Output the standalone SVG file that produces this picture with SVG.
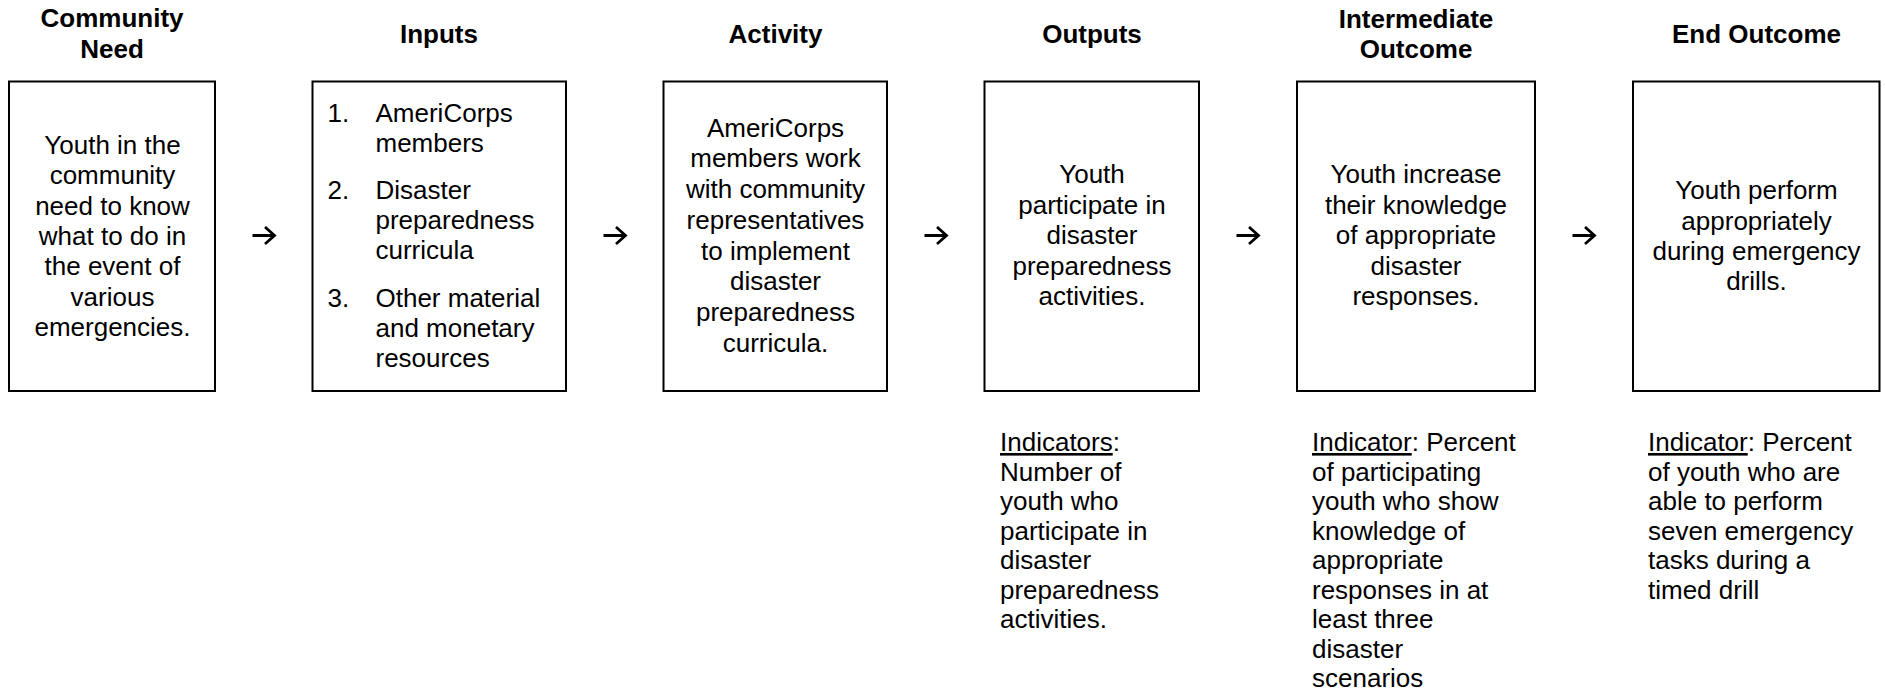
<svg xmlns="http://www.w3.org/2000/svg" width="1885" height="697" viewBox="0 0 1885 697">
<style>
text{font-family:"Liberation Sans",Arial,sans-serif;font-size:26px;fill:#000}
.h{font-weight:bold;text-anchor:middle}
.c{text-anchor:middle}
.box{fill:#fff;stroke:#000;stroke-width:2}
.arr{fill:none;stroke:#000;stroke-width:2.8;stroke-linecap:butt;stroke-linejoin:miter}
.u{text-decoration:underline}
</style>
<rect width="1885" height="697" fill="#fff"/>
<g id="node-need">
<text class="h" x="112" y="27">Community</text>
<text class="h" x="112" y="57.5">Need</text>
<rect class="box" x="9" y="81.5" width="206" height="309.5"/>
<text class="c" x="112.5" y="154">Youth in the</text>
<text class="c" x="112.5" y="184.3">community</text>
<text class="c" x="112.5" y="214.6">need to know</text>
<text class="c" x="112.5" y="245">what to do in</text>
<text class="c" x="112.5" y="275.3">the event of</text>
<text class="c" x="112.5" y="305.6">various</text>
<text class="c" x="112.5" y="336">emergencies.</text>
</g>
<g id="node-inputs">
<text class="h" x="439" y="43">Inputs</text>
<rect class="box" x="312.5" y="81.5" width="253.5" height="309.5"/>
<text x="327.5" y="121.7">1.</text>
<text x="375.5" y="121.7">AmeriCorps</text>
<text x="375.5" y="151.7">members</text>
<text x="327.5" y="199">2.</text>
<text x="375.5" y="199">Disaster</text>
<text x="375.5" y="229">preparedness</text>
<text x="375.5" y="259">curricula</text>
<text x="327.5" y="306.5">3.</text>
<text x="375.5" y="306.5">Other material</text>
<text x="375.5" y="336.5">and monetary</text>
<text x="375.5" y="366.5">resources</text>
</g>
<g id="node-activity">
<text class="h" x="775.5" y="43">Activity</text>
<rect class="box" x="663.5" y="81.5" width="223.5" height="309.5"/>
<text class="c" x="775.5" y="136.7">AmeriCorps</text>
<text class="c" x="775.5" y="167.4">members work</text>
<text class="c" x="775.5" y="198.1">with community</text>
<text class="c" x="775.5" y="228.8">representatives</text>
<text class="c" x="775.5" y="259.5">to implement</text>
<text class="c" x="775.5" y="290.2">disaster</text>
<text class="c" x="775.5" y="320.9">preparedness</text>
<text class="c" x="775.5" y="351.6">curricula.</text>
</g>
<g id="node-outputs">
<text class="h" x="1092" y="43">Outputs</text>
<rect class="box" x="984.5" y="81.5" width="214.5" height="309.5"/>
<text class="c" x="1092" y="183.3">Youth</text>
<text class="c" x="1092" y="213.7">participate in</text>
<text class="c" x="1092" y="244.1">disaster</text>
<text class="c" x="1092" y="274.5">preparedness</text>
<text class="c" x="1092" y="304.9">activities.</text>
<text x="1000" y="451"><tspan class="u">Indicators</tspan>:</text>
<text x="1000" y="480.5">Number of</text>
<text x="1000" y="510">youth who</text>
<text x="1000" y="539.5">participate in</text>
<text x="1000" y="569">disaster</text>
<text x="1000" y="598.5">preparedness</text>
<text x="1000" y="628">activities.</text>
</g>
<g id="node-intermediate">
<text class="h" x="1416" y="28">Intermediate</text>
<text class="h" x="1416" y="57.5">Outcome</text>
<rect class="box" x="1297" y="81.5" width="238" height="309.5"/>
<text class="c" x="1416" y="183.3">Youth increase</text>
<text class="c" x="1416" y="213.7">their knowledge</text>
<text class="c" x="1416" y="244.1">of appropriate</text>
<text class="c" x="1416" y="274.5">disaster</text>
<text class="c" x="1416" y="304.9">responses.</text>
<text x="1312" y="451"><tspan class="u">Indicator</tspan>: Percent</text>
<text x="1312" y="480.5">of participating</text>
<text x="1312" y="510">youth who show</text>
<text x="1312" y="539.5">knowledge of</text>
<text x="1312" y="569">appropriate</text>
<text x="1312" y="598.5">responses in at</text>
<text x="1312" y="628">least three</text>
<text x="1312" y="657.5">disaster</text>
<text x="1312" y="687">scenarios</text>
</g>
<g id="node-end">
<text class="h" x="1756.5" y="43">End Outcome</text>
<rect class="box" x="1633" y="81.5" width="246.5" height="309.5"/>
<text class="c" x="1756.5" y="199.3">Youth perform</text>
<text class="c" x="1756.5" y="229.6">appropriately</text>
<text class="c" x="1756.5" y="260">during emergency</text>
<text class="c" x="1756.5" y="290.3">drills.</text>
<text x="1648" y="451"><tspan class="u">Indicator</tspan>: Percent</text>
<text x="1648" y="480.5">of youth who are</text>
<text x="1648" y="510">able to perform</text>
<text x="1648" y="539.5">seven emergency</text>
<text x="1648" y="569">tasks during a</text>
<text x="1648" y="598.5">timed drill</text>
</g>
<g id="connectors">
<path class="arr" d="M252.5 235.5H274M265 227L274.5 235.5L265 244"/>
<path class="arr" d="M603.5 235.5H625M616 227L625.5 235.5L616 244"/>
<path class="arr" d="M924.5 235.5H946M937 227L946.5 235.5L937 244"/>
<path class="arr" d="M1236.5 235.5H1258M1249 227L1258.5 235.5L1249 244"/>
<path class="arr" d="M1572.5 235.5H1594M1585 227L1594.5 235.5L1585 244"/>
</g>
</svg>
